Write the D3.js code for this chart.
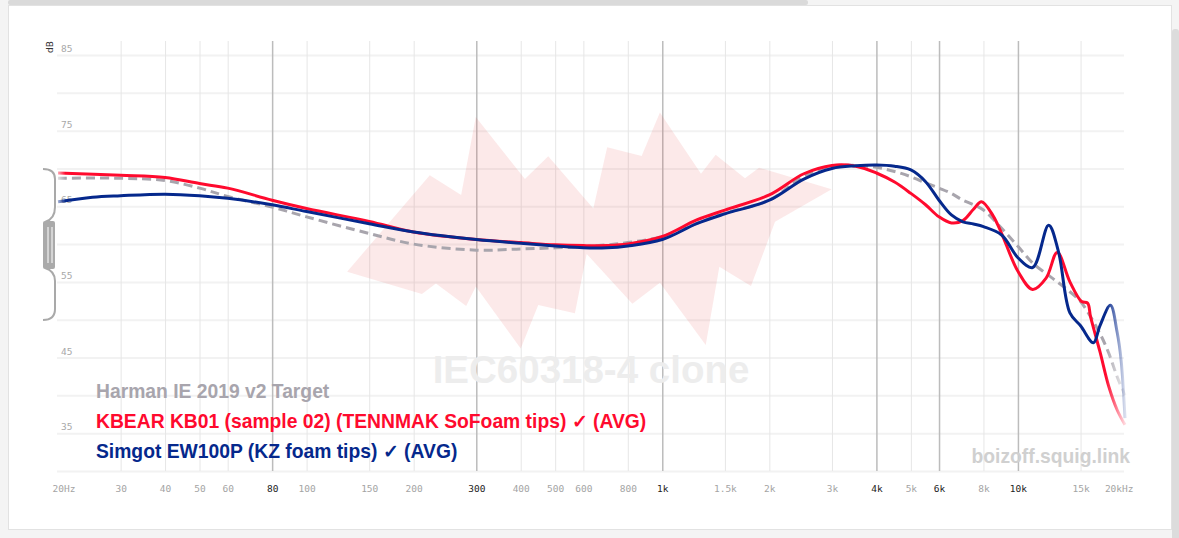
<!DOCTYPE html>
<html>
<head>
<meta charset="utf-8">
<script src="https://cdn.jsdelivr.net/npm/d3@7"></script>
<style>
  html, body { margin: 0; padding: 0; background: #f4f4f4; overflow: hidden; }
</style>
</head>
<body>
<div id="chart"></div>
<script>
const width = 1179
const height = 538

// frequency ticks (Hz) and their labels
const xTicks = [20, 30, 40, 50, 60, 80, 100, 150, 200, 300, 400, 500, 600, 800, 1000, 1500, 2000, 3000, 4000, 5000, 6000, 8000, 10000, 15000, 20000]
const xLabels = ['20Hz', '30', '40', '50', '60', '80', '100', '150', '200', '300', '400', '500', '600', '800', '1k', '1.5k', '2k', '3k', '4k', '5k', '6k', '8k', '10k', '15k', '20kHz']
const xMajor = [80, 300, 1000, 4000, 6000, 10000]

// dB gridlines and labelled ticks
const yGrid = [30, 35, 40, 45, 50, 55, 60, 65, 70, 75, 80, 85]
const yLabels = [35, 45, 55, 65, 75, 85]

// [Hz, dB]
const harmanTarget = [
  [20, 68.7], [30, 68.7], [40, 68.4], [50, 67.4], [60, 66.3], [80, 64.9], [100, 63.6],
  [150, 61.4], [200, 60.0], [300, 59.2], [400, 59.35], [500, 59.5], [600, 59.65],
  [700, 59.9], [800, 60.2], [1000, 61.0], [1250, 62.75], [1500, 64.1], [2000, 65.8],
  [2500, 69.0], [3000, 70.3], [3500, 70.4], [4000, 70.15], [4500, 69.6], [5000, 68.9],
  [5500, 68.1], [6000, 67.4], [6500, 66.7], [7000, 65.8], [7500, 65.2], [8000, 64.5],
  [9000, 62.1], [10000, 59.7], [11000, 57.5], [12000, 56.1], [13000, 54.9], [14000, 53.7],
  [15000, 52.4], [16000, 50.4], [17000, 48.2], [18000, 45.6], [19000, 42.5], [20000, 40.0]
]

const kbear = [
  [20, 69.4], [30, 69.1], [40, 68.8], [50, 68.0], [60, 67.4], [80, 65.8], [100, 64.7],
  [150, 63.0], [200, 61.6], [300, 60.6], [400, 60.2], [500, 59.9], [600, 59.8], [700, 59.8],
  [800, 60.0], [1000, 61.0], [1250, 63.2], [1500, 64.5], [2000, 66.5], [2500, 69.3],
  [3000, 70.4], [3500, 70.3], [4000, 69.4], [4500, 68.2], [5000, 66.7], [5500, 65.2],
  [6000, 63.6], [6500, 62.8], [7000, 63.1], [7500, 64.6], [7900, 65.6], [8500, 63.8],
  [9000, 61.4], [10000, 56.4], [11000, 54.0], [12000, 55.5], [12900, 58.9], [14000, 55.0],
  [15100, 52.4], [15700, 52.2], [16000, 50.4], [17000, 45.8], [18000, 41.2], [19000, 38.1],
  [20000, 36.1]
]

const simgot = [
  [20, 65.6], [25, 66.2], [30, 66.4], [40, 66.6], [50, 66.4], [60, 66.05], [80, 65.2],
  [100, 64.3], [150, 62.7], [200, 61.6], [300, 60.6], [400, 60.1], [500, 59.75], [600, 59.5],
  [700, 59.5], [800, 59.75], [1000, 60.6], [1250, 62.7], [1500, 64.0], [2000, 65.8],
  [2500, 68.6], [3000, 70.0], [3500, 70.35], [4000, 70.45], [4500, 70.3], [5000, 69.8],
  [5500, 68.25], [6000, 65.8], [6500, 63.85], [7000, 62.95], [7500, 62.65], [8000, 62.3],
  [9000, 61.2], [10000, 58.2], [11000, 56.9], [12200, 62.5], [13000, 59.0], [14000, 50.9],
  [15000, 49.2], [16300, 46.95], [17000, 49.2], [18200, 51.9], [19000, 48.4], [19500, 44.7],
  [20000, 37.0]
]

// IEC60318-4 watermark outline, [Hz, dB]
const iecShape = [
  [130, 56.35], [222, 69.1], [272, 66.5], [299, 76.8], [411, 68.6], [478, 71.6], [640, 64.7],
  [700, 72.8], [875, 71.65], [985, 77.4], [1285, 69.3], [1413, 71.8], [1708, 68.7], [1871, 70.1],
  [2994, 67.25], [2075, 62.96], [1776, 54.46], [1447, 57.0], [1325, 46.66], [985, 54.9],
  [824, 52.1], [613, 58.7], [568, 50.85], [448, 51.95], [400, 46.2], [299, 54.4], [281, 51.8],
  [231, 54.8], [211, 53.4]
]

const legendNames = [
  'Harman IE 2019 v2 Target',
  'KBEAR KB01 (sample 02) (TENNMAK SoFoam tips) \u2713 (AVG)',
  'Simgot EW100P (KZ foam tips) \u2713 (AVG)'
]
const legendColors = ['#a8a5ad', '#ff0a2e', '#05288c']

const xScale = d3.scaleLog().domain([20, 20000]).range([58, 1125])
const yScale = d3.scaleLinear().domain([30, 85]).range([471, 55])

const svg = d3.select('#chart').append('svg')
  .attr('width', width)
  .attr('height', height)
  .style('display', 'block')

// page frame
svg.append('rect').attr('width', width).attr('height', height).attr('fill', '#f4f4f4')
svg.append('rect')
  .attr('x', 8.5).attr('y', 5.5).attr('width', 1163).attr('height', 524)
  .attr('fill', '#fff').attr('stroke', '#e2e2e2')
svg.append('rect').attr('x', 8).attr('y', 0).attr('width', 800).attr('height', 5).attr('rx', 2).attr('fill', '#dadada')
svg.append('rect').attr('x', 1172).attr('y', 29).attr('width', 7).attr('height', 520).attr('rx', 3).attr('fill', '#dcdcdc')

// horizontal grid
const yAxis = svg.append('g')
  .attr('transform', 'translate(57,0)')
  .call(d3.axisLeft(yScale).tickValues(yGrid).tickSize(-1067).tickFormat(''))
yAxis.select('.domain').remove()
yAxis.selectAll('.tick line').attr('stroke', '#f2f2f2').attr('stroke-width', 2)

svg.append('g').selectAll('text')
  .data(yLabels)
  .join('text')
  .attr('x', 61)
  .attr('y', d => yScale(d) - 3)
  .attr('font-family', 'DejaVu Sans Mono, monospace')
  .attr('font-size', 9.5)
  .attr('fill', '#a8a8a8')
  .text(d => d)

svg.append('text')
  .attr('transform', 'translate(53,47) rotate(-90)')
  .attr('text-anchor', 'middle')
  .attr('font-family', 'DejaVu Sans, sans-serif')
  .attr('font-size', 9)
  .attr('fill', '#333')
  .text('dB')

// vertical grid + frequency labels
const xAxis = svg.append('g')
  .attr('transform', 'translate(0,471)')
  .call(d3.axisBottom(xScale).tickValues(xTicks).tickSize(-430).tickPadding(14)
    .tickFormat((d, i) => xLabels[i]))
xAxis.select('.domain').remove()
xAxis.selectAll('.tick line')
  .attr('stroke', d => xMajor.includes(d) ? '#bcbcbc' : '#e6e6e6')
  .attr('stroke-width', d => xMajor.includes(d) ? 1.5 : 1)
xAxis.selectAll('.tick').filter(d => d === 20 || d === 20000).select('line').remove()
xAxis.selectAll('.tick text')
  .attr('font-family', 'DejaVu Sans Mono, monospace')
  .attr('font-size', 9.5)
  .attr('fill', d => xMajor.includes(d) ? '#222' : '#a4a4a4')
  .attr('text-anchor', d => d === 20 ? 'start' : d === 20000 ? 'end' : 'middle')
  .attr('dx', d => d === 20 ? -6 : d === 20000 ? 8 : 0)

// IEC watermark
svg.append('path')
  .datum(iecShape)
  .attr('d', d3.line().x(d => xScale(d[0])).y(d => yScale(d[1])).curve(d3.curveLinearClosed))
  .attr('fill', '#e53935')
  .attr('fill-opacity', 0.11)

svg.append('text')
  .attr('x', 591)
  .attr('y', 383)
  .attr('text-anchor', 'middle')
  .attr('font-family', 'Liberation Sans, Arial, sans-serif')
  .attr('font-weight', 'bold')
  .attr('font-size', 38.5)
  .attr('fill', '#ededed')
  .text('IEC60318-4 clone')

svg.append('text')
  .attr('x', 1130)
  .attr('y', 463)
  .attr('text-anchor', 'end')
  .attr('font-family', 'Liberation Sans, Arial, sans-serif')
  .attr('font-weight', 'bold')
  .attr('font-size', 19.3)
  .attr('fill', '#d0d0d0')
  .text('boizoff.squig.link')

// curves with faded ends
const defs = svg.append('defs')
function fadeGradient(id, color) {
  const g = defs.append('linearGradient')
    .attr('id', id)
    .attr('gradientUnits', 'userSpaceOnUse')
    .attr('x1', xScale(20)).attr('x2', xScale(20000))
    .attr('y1', 0).attr('y2', 0)
  ;[[0, 0.35], [0.007, 1], [0.982, 1], [1, 0.15]].forEach(s => {
    g.append('stop').attr('offset', s[0]).attr('stop-color', color).attr('stop-opacity', s[1])
  })
}
fadeGradient('fade0', legendColors[0])
fadeGradient('fade1', legendColors[1])
fadeGradient('fade2', legendColors[2])

const line = d3.line()
  .x(d => xScale(d[0]))
  .y(d => yScale(d[1]))
  .curve(d3.curveCatmullRom.alpha(0.5))

const curves = svg.append('g').attr('fill', 'none').attr('stroke-linecap', 'butt')
curves.append('path')
  .datum(harmanTarget)
  .attr('d', line)
  .attr('stroke', 'url(#fade0)')
  .attr('stroke-width', 3)
  .attr('stroke-dasharray', '9 5')
curves.append('path')
  .datum(kbear)
  .attr('d', line)
  .attr('stroke', 'url(#fade1)')
  .attr('stroke-width', 3)
curves.append('path')
  .datum(simgot)
  .attr('d', line)
  .attr('stroke', 'url(#fade2)')
  .attr('stroke-width', 3)

// legend
svg.append('g').selectAll('text')
  .data(legendNames)
  .join('text')
  .attr('x', 96)
  .attr('y', (d, i) => 398 + i * 30)
  .attr('font-family', 'Liberation Sans, Arial, sans-serif')
  .attr('font-weight', 'bold')
  .attr('font-size', 19.3)
  .attr('fill', (d, i) => legendColors[i])
  .text(d => d)

// y-scale drag handle
const handle = svg.append('g').attr('stroke', '#a9a9a9').attr('stroke-width', 2).attr('fill', 'none')
handle.append('path').attr('d', 'M43,169 Q55,169 55,179 L55,207 Q55,219 45,222')
handle.append('path').attr('d', 'M45,268 Q55,271 55,281 L55,309 Q55,320 43,320')
handle.append('rect')
  .attr('x', 43).attr('y', 221).attr('width', 12).attr('height', 48).attr('rx', 2)
  .attr('fill', '#aaa').attr('stroke', 'none')
handle.selectAll('line.g')
  .data([48, 52])
  .join('line')
  .attr('x1', d => d).attr('x2', d => d)
  .attr('y1', 227).attr('y2', 263)
  .attr('stroke', '#fff').attr('stroke-width', 1)
</script>
</body>
</html>
